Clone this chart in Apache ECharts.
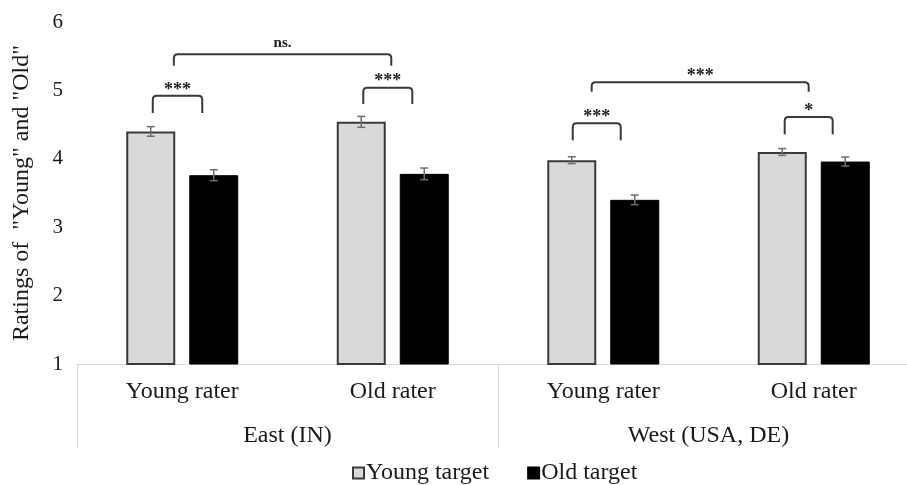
<!DOCTYPE html>
<html>
<head>
<meta charset="utf-8">
<script src="https://cdn.jsdelivr.net/npm/echarts@6/dist/echarts.min.js"></script>
<style>
html,body{margin:0;padding:0;background:#fff;overflow:hidden;width:907px;height:485px;}
#chart{width:920px;height:485px;}
</style>
</head>
<body>
<div id="chart"></div>
<script>
// ---- data ----
const raters = ['Young rater', 'Old rater', 'Young rater', 'Old rater'];
const regions = ['East (IN)', 'West (USA, DE)'];
const seriesNames = ['Young target', 'Old target'];
const youngTarget = [4.40, 4.54, 3.98, 4.10];
const oldTarget = [3.76, 3.78, 3.40, 3.96];
const youngTargetErr = [0.07, 0.08, 0.05, 0.05];
const oldTargetErr = [0.08, 0.085, 0.07, 0.065];
const yMin = 1, yMax = 6, yStep = 1;
const yTitle = 'Ratings of  "Young" and "Old"';
// significance brackets: [category index, fraction of category band] for each end
const bracketFrom = [[0, -0.14], [1, -0.14], [0, -0.04], [2, -0.145], [3, -0.138], [2, -0.055]];
const bracketTo   = [[0, 0.095], [1, 0.093], [1, -0.007], [2, 0.083], [3, 0.09], [3, -0.024]];
const bracketTop    = [4.92, 5.04, 5.53, 4.52, 4.61, 5.12];
const bracketBottom = [4.67, 4.80, 5.36, 4.27, 4.36, 4.98];
const bracketLabels = ['***', '***', 'ns.', '***', '*', '***'];

// ---- styles ----
const FONT = '"Liberation Serif", "Times New Roman", serif';
const BAR_W = 49, BAR_GAP = 14;
const TEXT = '#1a1a1a';

const chart = echarts.init(document.getElementById('chart'), null, {renderer: 'canvas'});

function errData(vals, errs) { return vals.map((v, i) => [i, v, errs[i]]); }
function errRender(side) {
  return function (params, api) {
    const i = api.value(0), v = api.value(1), e = api.value(2);
    const off = side * (BAR_W + BAR_GAP) / 2;
    const p1 = api.coord([i, v + e]);
    const p2 = api.coord([i, v - e]);
    const x = p1[0] + off;
    const cap = 4;
    const st = {stroke: '#6e6e6e', lineWidth: 1.5, fill: null};
    return {type: 'group', children: [
      {type: 'line', shape: {x1: x, y1: p1[1], x2: x, y2: p2[1]}, style: st},
      {type: 'line', shape: {x1: x - cap, y1: p1[1], x2: x + cap, y2: p1[1]}, style: st},
      {type: 'line', shape: {x1: x - cap, y1: p2[1], x2: x + cap, y2: p2[1]}, style: st}
    ]};
  };
}

const bracketData = bracketFrom.map((f, i) => [f[0], f[1], bracketTo[i][0], bracketTo[i][1], bracketTop[i], bracketBottom[i], i]);

const grid = {left: 77, right: 1, top: 22, bottom: 121};

chart.setOption({
  animation: false,
  textStyle: {fontFamily: FONT},
  grid: [Object.assign({}, grid), Object.assign({}, grid)],
  legend: {
    data: seriesNames,
    left: 347, top: 456,
    icon: 'rect', itemWidth: 11, itemHeight: 11, itemGap: 38,
    textStyle: {fontFamily: FONT, fontSize: 24, color: TEXT, padding: [0, 0, 0, -3]}
  },
  xAxis: [
    {
      type: 'category', data: raters, gridIndex: 0,
      axisLine: {show: true, lineStyle: {color: '#d9d9d9', width: 1}},
      axisTick: {show: false},
      axisLabel: {fontFamily: FONT, fontSize: 24, color: TEXT, margin: 16, interval: 0}
    },
    {
      type: 'category', data: regions, gridIndex: 1,
      axisLine: {show: false},
      axisTick: {show: true, length: 84, lineStyle: {color: '#d9d9d9', width: 1}},
      axisLabel: {fontFamily: FONT, fontSize: 24, color: TEXT, margin: 60, interval: 0}
    }
  ],
  yAxis: [
    {
      type: 'value', min: yMin, max: yMax, interval: yStep, gridIndex: 0,
      name: yTitle, nameLocation: 'middle', nameGap: 43,
      nameTextStyle: {fontFamily: FONT, fontSize: 24, color: TEXT},
      axisLine: {show: false}, axisTick: {show: false}, splitLine: {show: false},
      axisLabel: {fontFamily: FONT, fontSize: 21, color: TEXT, margin: 14}
    },
    {type: 'value', min: yMin, max: yMax, gridIndex: 1, show: false}
  ],
  series: [
    {
      name: seriesNames[0], type: 'bar', data: youngTarget,
      barWidth: BAR_W, barGap: (BAR_GAP / BAR_W * 100) + '%',
      itemStyle: {color: '#d9d9d9', borderColor: '#3a3a3a', borderWidth: 2}
    },
    {
      name: seriesNames[1], type: 'bar', data: oldTarget,
      barWidth: BAR_W,
      itemStyle: {color: '#000', borderColor: '#000', borderWidth: 1}
    },
    {type: 'custom', data: errData(youngTarget, youngTargetErr), renderItem: errRender(-1), z: 5, silent: true},
    {type: 'custom', data: errData(oldTarget, oldTargetErr), renderItem: errRender(1), z: 5, silent: true},
    {
      type: 'custom', data: bracketData, z: 6, silent: true,
      renderItem: function (params, api) {
        const band = api.size([1, 0])[0];
        const xa = api.coord([api.value(0), api.value(4)])[0] + api.value(1) * band;
        const xb = api.coord([api.value(2), api.value(4)])[0] + api.value(3) * band;
        const yt = api.coord([api.value(0), api.value(4)])[1];
        const yb = api.coord([api.value(0), api.value(5)])[1];
        const label = bracketLabels[api.value(6)];
        const r = 4;
        return {type: 'group', children: [
          {type: 'path', shape: {pathData:
            'M' + xa + ' ' + yb + ' L' + xa + ' ' + (yt + r) + ' Q' + xa + ' ' + yt + ' ' + (xa + r) + ' ' + yt +
            ' L' + (xb - r) + ' ' + yt + ' Q' + xb + ' ' + yt + ' ' + xb + ' ' + (yt + r) + ' L' + xb + ' ' + yb},
            style: {stroke: '#3a3a3a', lineWidth: 2, fill: null}},
          {type: 'text', x: (xa + xb) / 2, y: yt + (label === 'ns.' ? -4 : 3),
            style: {text: label, fontFamily: FONT, fontSize: label === 'ns.' ? 15 : 18, fontWeight: 'bold',
              fill: '#222', align: 'center', verticalAlign: 'bottom'}}
        ]};
      }
    }
  ]
});
</script>
</body>
</html>
